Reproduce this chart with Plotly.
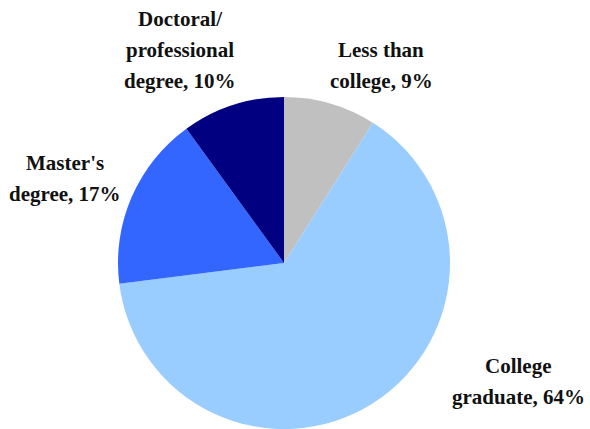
import plotly.graph_objects as go

# education level shares
categories = ["Less than college", "College graduate", "Master's degree", "Doctoral/professional degree"]
values = [9, 64, 17, 10]
colors = ["#C0C0C0", "#99CCFF", "#3366FF", "#000080"]

# label text, one list of lines per slice
label_lines = [
    ["Less than", "college, 9%"],
    ["College", "graduate, 64%"],
    ["Master's", "degree, 17%"],
    ["Doctoral/", "professional", "degree, 10%"],
]
# label block centre (px) for each slice
label_pos = [(381, 66), (518, 381), (65, 178), (180, 50)]

W, H = 590, 429
LINE = 31

fig = go.Figure()
fig.add_trace(go.Pie(
    labels=categories,
    values=values,
    marker=dict(colors=colors, line=dict(width=0)),
    sort=False,
    direction="clockwise",
    rotation=0,
    textinfo="none",
    hoverinfo="label+percent",
    domain=dict(x=[118 / W, 450 / W], y=[0, 1 - 97 / H]),
    showlegend=False,
))

annotations = []
for lines, (cx, cy) in zip(label_lines, label_pos):
    n = len(lines)
    for i, txt in enumerate(lines):
        y = cy + (i - (n - 1) / 2) * LINE
        annotations.append(dict(
            x=cx / W, y=1 - y / H, xref="paper", yref="paper",
            text="<b>" + txt + "</b>", showarrow=False,
            xanchor="center", yanchor="middle",
            font=dict(family="Liberation Serif, DejaVu Serif, serif", size=21, color="#111111"),
        ))

fig.update_layout(
    width=W, height=H,
    margin=dict(l=0, r=0, t=0, b=0),
    paper_bgcolor="white", plot_bgcolor="white",
    annotations=annotations,
)
fig.write_html("out.html", config={"displayModeBar": False},
               post_script="document.body.style.margin='0';")
